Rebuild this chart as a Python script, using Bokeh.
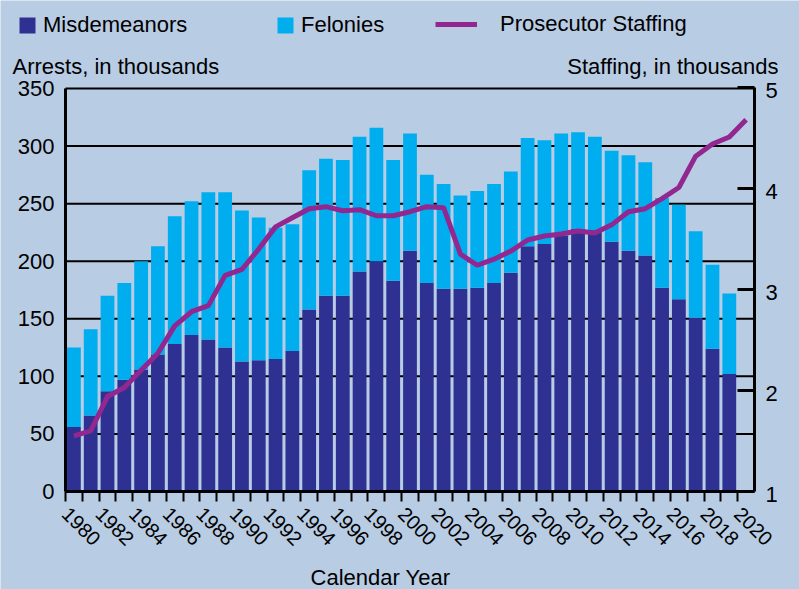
import math
from bokeh.plotting import figure
from bokeh.models import (Range1d, LinearAxis, FixedTicker, Legend, LegendItem,
                          Label, ColumnDataSource)
from bokeh.core.properties import value
from bokeh.embed import file_html
from bokeh.resources import INLINE

# ---------------- data ----------------
years = list(range(1980, 2020))
misdemeanors = [56, 66, 87, 97, 106, 119, 128, 136, 132, 125,
                113, 114, 115, 122, 158, 170, 170, 191, 200, 183,
                209, 181, 176, 176, 177, 181, 190, 213, 215, 222,
                228, 227, 217, 209, 205, 177, 167, 151, 124, 102]
felonies = [69, 75, 83, 84, 94, 94, 111, 116, 128, 135,
            131, 124, 114, 110, 121, 119, 118, 117, 116, 105,
            102, 94, 91, 81, 84, 86, 88, 94, 90, 89,
            84, 81, 79, 83, 81, 78, 82, 75, 73, 70]
staff_years = list(range(1980, 2021))
staffing = [1.55, 1.60, 1.94, 2.03, 2.20, 2.37, 2.64, 2.78, 2.84, 3.14,
            3.20, 3.40, 3.62, 3.71, 3.80, 3.82, 3.78, 3.79, 3.73, 3.73,
            3.77, 3.82, 3.81, 3.35, 3.24, 3.30, 3.38, 3.49, 3.53, 3.55,
            3.58, 3.56, 3.64, 3.77, 3.80, 3.90, 4.01, 4.32, 4.44, 4.51,
            4.68]
left_ticks = [0, 50, 100, 150, 200, 250, 300, 350]
right_ticks = [1, 2, 3, 4, 5]
right_labels = ["1", "2", "3", "4", "5"]
year_ticks = list(range(1980, 2021))
X_MIN, X_MAX = 1980, 2021

BG = "#B8CCE4"
DARK = "#2E3192"
LIGHT = "#00AEEF"
PURPLE = "#92278F"
FONT = "Liberation Sans"

W, H = 799, 589
# plot-area box inside the canvas (pixels): left, right, top, bottom
PL, PR, PT, PB = 65, 754, 88, 491
PT_R = 87

xs = (PR - PL) / (X_MAX - X_MIN)
ys = (PB - PT) / (left_ticks[-1] - left_ticks[0])
rs_ = (PB - PT_R) / (right_ticks[-1] - right_ticks[0])

x_range = Range1d(X_MIN - PL / xs, X_MAX + (W - PR) / xs)
y_range = Range1d(left_ticks[0] - (H - PB) / ys, left_ticks[-1] + PT / ys)

p = figure(width=W, height=H, x_range=x_range, y_range=y_range, title=None,
           output_backend="svg", toolbar_location=None)
p.min_border_left = 0
p.min_border_right = 0
p.min_border_top = 0
p.min_border_bottom = 0
p.background_fill_color = BG
p.border_fill_color = BG
p.outline_line_color = None
p.extra_y_ranges = {"staff": Range1d(right_ticks[0] - (H - PB) / rs_,
                                     right_ticks[-1] + PT_R / rs_)}
p.xgrid.visible = False
p.ygrid.visible = False

# horizontal grid lines (behind the bars)
p.segment(x0=[X_MIN] * (len(left_ticks) - 1), x1=[X_MAX] * (len(left_ticks) - 1),
          y0=left_ticks[1:], y1=left_ticks[1:], line_color="black", line_width=2)

src = ColumnDataSource(dict(x=[y + 0.5 for y in years], misd=misdemeanors, fel=felonies))
bars = p.vbar_stack(["misd", "fel"], x="x", width=0.82, source=src,
                    fill_color=[DARK, LIGHT], line_color=None)

line = p.line(x=[y + 0.5 for y in staff_years], y=staffing, y_range_name="staff",
              line_width=5, line_color=PURPLE)

# left axis
ya = p.yaxis[0]
ya.fixed_location = X_MIN
ya.bounds = (left_ticks[0], left_ticks[-1])
ya.ticker = FixedTicker(ticks=left_ticks)
ya.major_tick_out = 0
ya.major_tick_in = 0
ya.minor_tick_out = 0
ya.minor_tick_in = 0
ya.axis_line_width = 3
ya.axis_line_color = "black"
ya.major_label_standoff = 11
ya.major_label_text_font = FONT
ya.major_label_text_font_size = "22px"
ya.major_label_text_color = "black"

# right axis (its tick labels are placed as text next to the axis line)
ra = LinearAxis(y_range_name="staff", ticker=FixedTicker(ticks=right_ticks),
                fixed_location=X_MAX, bounds=(right_ticks[0], right_ticks[-1]))
ra.major_tick_out = 0
ra.major_tick_in = 17
ra.major_tick_line_width = 3
ra.minor_tick_out = 0
ra.minor_tick_in = 0
ra.axis_line_width = 3
ra.major_label_overrides = {t: "" for t in right_ticks}
p.add_layout(ra, "right")
p.text(x=[X_MAX] * len(right_ticks), y=right_ticks, text=right_labels,
       y_range_name="staff", x_offset=11, y_offset=3,
       text_align="left", text_baseline="middle", text_color="black",
       text_font=value(FONT), text_font_size=value("22px"))

# bottom axis
xa = p.xaxis[0]
xa.fixed_location = left_ticks[0]
xa.bounds = (X_MIN, X_MAX)
xa.ticker = FixedTicker(ticks=year_ticks)
xa.major_label_overrides = {y: ("" if y % 2 else str(y)) for y in year_ticks}
xa.major_tick_out = 10
xa.major_tick_in = 0
xa.major_tick_line_width = 2
xa.minor_tick_out = 0
xa.minor_tick_in = 0
xa.axis_line_width = 3
xa.major_label_orientation = -math.pi / 4
xa.major_label_standoff = 9
xa.major_label_text_font = FONT
xa.major_label_text_font_size = "20px"
xa.major_label_text_color = "black"

# legends
leg1 = Legend(items=[LegendItem(label="Misdemeanors", renderers=[bars[0]]),
                     LegendItem(label="Felonies", renderers=[bars[1]])],
              orientation="horizontal", location=(17, H - 14 - 21 - 3),
              glyph_width=20, glyph_height=20, label_standoff=6, label_width=232,
              label_height=20, spacing=0, padding=0, margin=0,
              border_line_color=None, background_fill_alpha=0,
              label_text_font=FONT, label_text_font_size="22px", label_text_color="black")
leg2 = Legend(items=[LegendItem(label="Prosecutor Staffing", renderers=[line])],
              orientation="horizontal", location=(435, H - 12 - 21 - 4),
              glyph_width=42, glyph_height=20, label_standoff=23, label_height=20,
              spacing=0, padding=0, margin=0,
              border_line_color=None, background_fill_alpha=0,
              label_text_font=FONT, label_text_font_size="22px", label_text_color="black")
p.add_layout(leg1)
p.add_layout(leg2)

# titles
common = dict(x_units="screen", y_units="screen", text_font=FONT, text_font_size="22px",
              text_color="black", text_baseline="alphabetic")
p.add_layout(Label(x=12, y=H - 66, text="Arrests, in thousands", text_align="left", **common))
p.add_layout(Label(x=778, y=H - 66, text="Staffing, in thousands", text_align="right", **common))
p.add_layout(Label(x=380, y=H - 577, text="Calendar Year", text_align="center", **common))

open("out.html", "w").write(file_html(p, INLINE))
